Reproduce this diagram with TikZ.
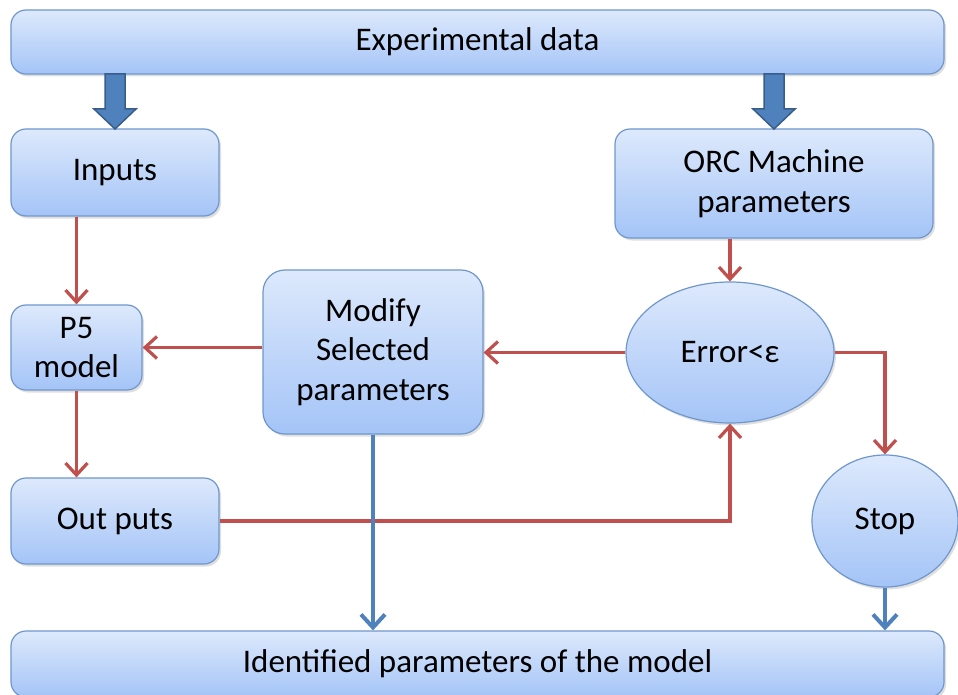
\documentclass[tikz,border=0pt]{standalone}
\usepackage{fontspec}
\setmainfont{Carlito}
\usetikzlibrary{shapes.geometric,arrows.meta,shadows}
\definecolor{boxtop}{HTML}{DDE9FC}
\definecolor{boxbot}{HTML}{A4C4F7}
\definecolor{boxline}{HTML}{6F97CB}
\definecolor{redline}{HTML}{C0504D}
\definecolor{blueline}{HTML}{4F81BD}
\definecolor{bluedark}{HTML}{385D8A}
\tikzset{
  base/.style={draw=boxline, line width=1.2pt, top color=boxtop, bottom color=boxbot,
    inner sep=0pt, align=center, font=\fontsize{33}{39.5}\selectfont,
    drop shadow={opacity=0.25, shadow xshift=2pt, shadow yshift=-2.5pt}},
  rbox/.style={base, rectangle, rounded corners=15pt},
  ebox/.style={base, ellipse},
  redarrow/.style={draw=redline, line width=3.2pt, -{Straight Barb[length=12pt,width=22pt,line width=3.2pt]}},
  bluearrow/.style={draw=blueline, line width=4pt, -{Straight Barb[length=13pt,width=24pt,line width=4pt]}},
  blockarrow/.style={draw=bluedark, line width=1.5pt, fill=blueline}
}
\begin{document}
\begin{tikzpicture}[x=1pt,y=-1pt]
\useasboundingbox (0,0) rectangle (958,695);
\node[rbox, minimum width=933pt, minimum height=64pt] (exp) at (477.5,42) {Experimental data};
\node[rbox, minimum width=208pt, minimum height=87pt] (inp) at (115,172.5) {Inputs};
\node[rbox, minimum width=318pt, minimum height=109pt] (orc) at (774,183.5) {ORC Machine\\parameters};
\node[rbox, minimum width=131pt, minimum height=85pt] (p5) at (76.5,347.5) {P5\\model};
\node[rbox, minimum width=220pt, minimum height=164pt, rounded corners=22pt] (mod) at (373,352) {Modify\\Selected\\parameters};
\node[ebox, minimum width=208pt, minimum height=141pt] (err) at (730,352.5) {Error<ε};
\node[ebox, minimum width=146pt, minimum height=132pt] (stop) at (885,521) {Stop};
\node[rbox, minimum width=208pt, minimum height=86pt] (out) at (115,521) {Out puts};
\node[rbox, minimum width=933pt, minimum height=66pt] (idn) at (477.5,664) {Identified parameters of the model};
% block arrows
\filldraw[blockarrow] (105,74) -- (125,74) -- (125,109) -- (136,109) -- (115,129) -- (94,109) -- (105,109) -- cycle;
\filldraw[blockarrow] (764,74) -- (784,74) -- (784,109) -- (795,109) -- (774,129) -- (753,109) -- (764,109) -- cycle;
% red arrows
\draw[redarrow] (inp.south -| p5.north) -- (p5.north);
\draw[redarrow] (p5.south) -- (p5.south |- out.north);
\draw[redarrow] (mod.west |- p5.east) -- (p5.east);
\draw[redarrow] (err.west) -- (mod.east |- err.west);
\draw[redarrow] (orc.south -| err.north) -- (err.north);
\draw[redarrow] (out.east) -| (err.south);
\draw[redarrow] (err.east) -| (stop.north);
% blue arrows
\draw[bluearrow] (mod.south) -- (mod.south |- idn.north);
\draw[bluearrow] (stop.south) -- (stop.south |- idn.north);
\end{tikzpicture}
\end{document}
